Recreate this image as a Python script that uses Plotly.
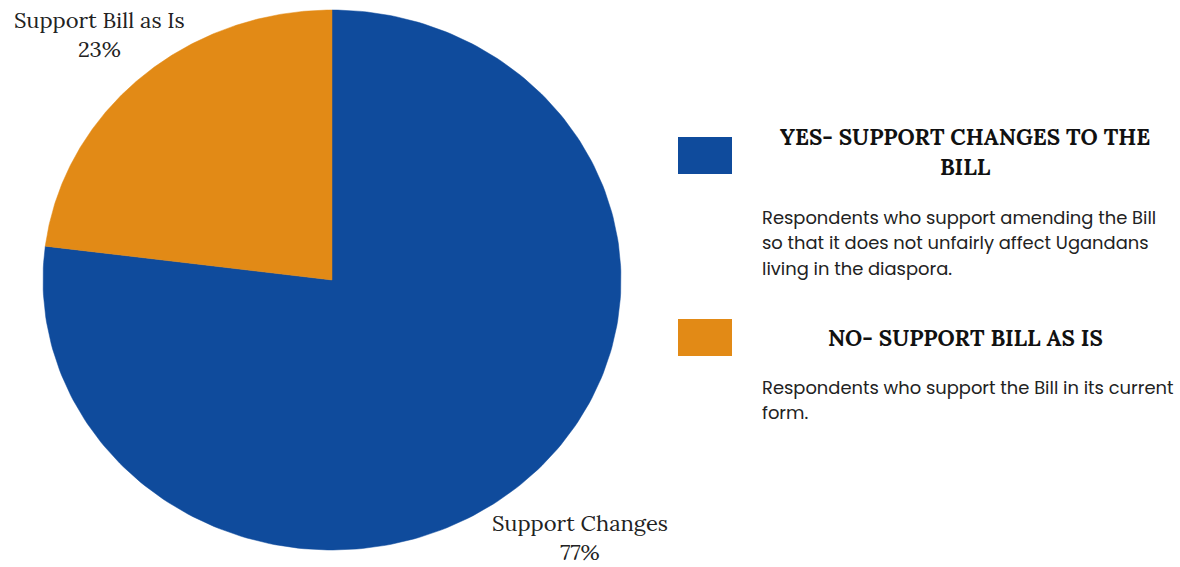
import numpy as np
import plotly.graph_objects as go

# ---- data ----
categories = ["Support Changes", "Support Bill as Is"]
values = [77, 23]
colors = ["#0F4B9C", "#E28A16"]
legend_titles = [["YES- SUPPORT CHANGES TO THE", "BILL"], ["NO- SUPPORT BILL AS IS"]]
legend_desc = [
    ["Respondents who support amending the Bill",
     "so that it does not unfairly affect Ugandans",
     "living in the diaspora."],
    ["Respondents who support the Bill in its current", "form."],
]

W, H = 1180, 567
CX, CY, RX, RY = 332, 280, 289, 270

fig = go.Figure()
total = sum(values)
start = 0.0
for cat, v, c in zip(categories, values, colors):
    end = start + v / total * 360
    th = np.radians(np.linspace(start, end, 240))
    xs = np.concatenate([[CX], CX + RX * np.sin(th), [CX]])
    ys = np.concatenate([[CY], CY - RY * np.cos(th), [CY]])
    fig.add_trace(go.Scatter(x=xs, y=ys, mode="lines", fill="toself",
                             fillcolor=c, line=dict(color=c, width=0.5),
                             name=cat, hoverinfo="name", showlegend=False))
    start = end

serif = "Lora, 'DejaVu Serif', serif"
sans = "Poppins, 'Open Sans', sans-serif"


def txt(x, y, s, family, size, color, anchor="center", bold=False, yanchor="middle"):
    fig.add_annotation(x=x, y=y, xref="x", yref="y", xanchor=anchor, yanchor=yanchor,
                       text=f"<b>{s}</b>" if bold else s, showarrow=False,
                       borderpad=0, align="center",
                       font=dict(family=family, size=size, color=color))


# slice labels
txt(99, 34, f"{categories[1]}<br>{values[1]}%", serif, 22, "#222")
txt(580, 567, f"{categories[0]}<br>{values[0]}%", serif, 22, "#222", yanchor="bottom")

# legend
sq_y = [(137, 174), (319, 356)]
title_y = [[136, 166], [337]]
desc_y = [[217, 242, 268], [387, 412]]
for i in range(2):
    fig.add_shape(type="rect", xref="x", yref="y", x0=678, x1=732,
                  y0=sq_y[i][0], y1=sq_y[i][1], fillcolor=colors[i],
                  line=dict(width=0))
    for line, y in zip(legend_titles[i], title_y[i]):
        txt(965, y, line, serif, 22.4, "#111", bold=True)
    for line, y in zip(legend_desc[i], desc_y[i]):
        txt(761, y, line, sans, 17.9, "#222", anchor="left")

fig.update_layout(width=W, height=H, margin=dict(l=0, r=0, t=0, b=0),
                  paper_bgcolor="white", plot_bgcolor="white",
                  xaxis=dict(range=[0, W], visible=False, fixedrange=True),
                  yaxis=dict(range=[H, 0], visible=False, fixedrange=True),
                  showlegend=False)
fig.write_html("out.html")
